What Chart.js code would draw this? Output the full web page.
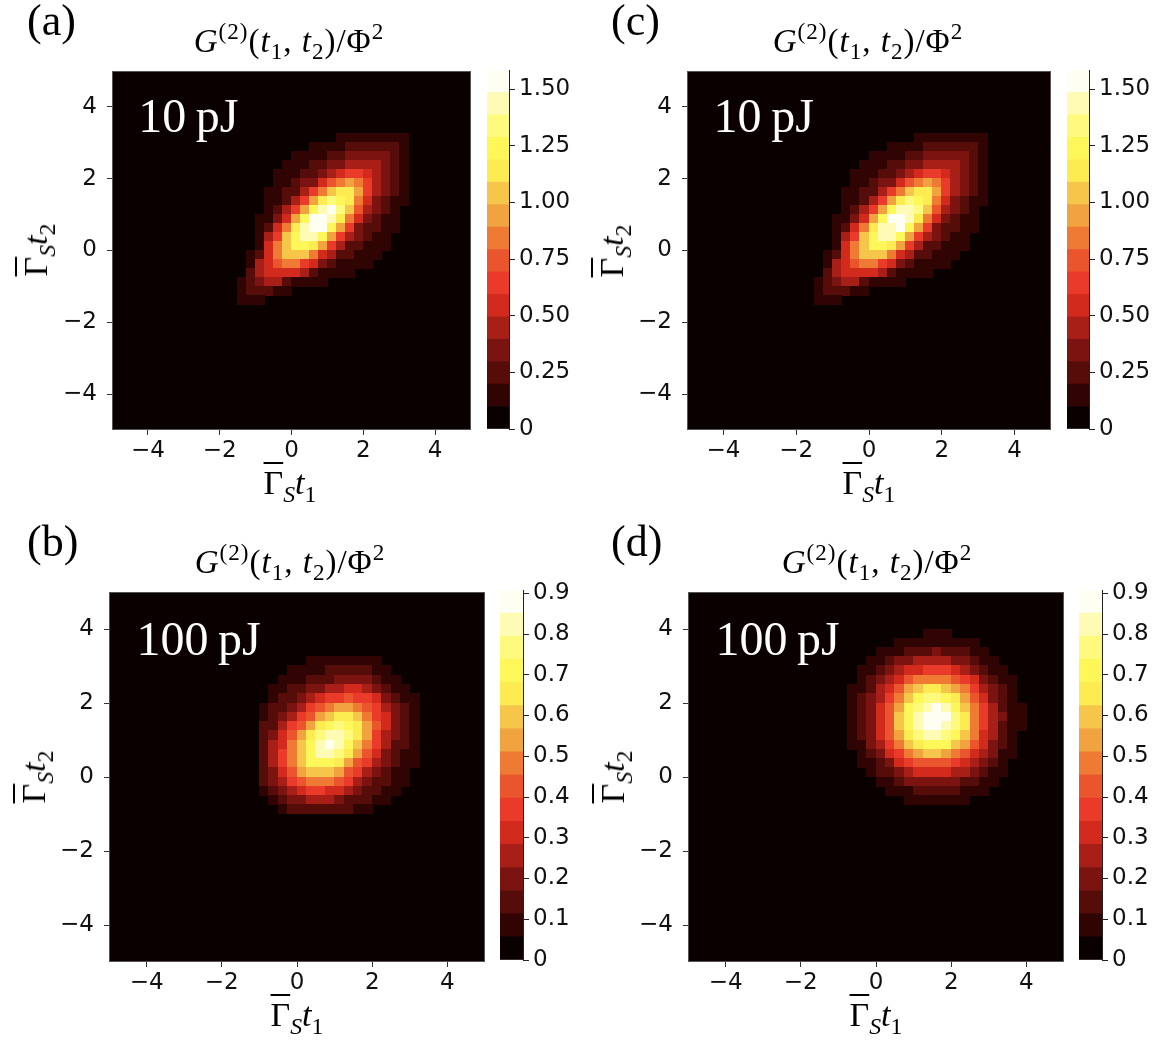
<!DOCTYPE html>
<html lang="en">
<head>
    <meta charset="UTF-8">
    <meta name="viewport" content="width=device-width, initial-scale=1.0">
    <title>G2 correlation maps</title>
    <style>
        html, body { margin: 0; padding: 0; background: #fff; }
        #fig { position: relative; width: 1168px; height: 1044px; overflow: hidden; font-family: "Liberation Serif", "Times New Roman", serif; color: #000; }
        .box { position: absolute; }
        .tag { position: absolute; font-size: 44px; line-height: 1; }
        .ttl { position: absolute; font-size: 33px; line-height: 1; white-space: nowrap; transform: translateX(-50%); letter-spacing: 1px; }
        .xl { position: absolute; font-size: 34px; line-height: 1; white-space: nowrap; transform: translateX(-50%); }
        .yl { position: absolute; font-size: 34px; line-height: 1; white-space: nowrap; transform-origin: 0 0; transform: rotate(-90deg) translateX(-50%); }
        .ov { text-decoration: overline; text-decoration-thickness: 1.5px; }
        .m sub, .m sup { font-size: 70%; vertical-align: baseline; position: relative; }
        .m sub { top: 0.32em; }
        .m sup { top: -0.55em; }
    </style>
</head>
<body>
<div id="fig">
    <div class="box" style="left:42px;top:41px;width:439px;height:434px"><canvas id="pa"></canvas></div>
    <div class="box" style="left:617px;top:41px;width:444px;height:434px"><canvas id="pc"></canvas></div>
    <div class="box" style="left:39px;top:562px;width:456px;height:445px"><canvas id="pb"></canvas></div>
    <div class="box" style="left:618px;top:562px;width:456px;height:445px"><canvas id="pd"></canvas></div>

    <div class="box" style="left:487px;top:40px;width:87px;height:419px"><canvas id="ca"></canvas></div>
    <div class="box" style="left:1067px;top:40px;width:87px;height:419px"><canvas id="cc"></canvas></div>
    <div class="box" style="left:500px;top:560px;width:88px;height:430px"><canvas id="cb"></canvas></div>
    <div class="box" style="left:1079px;top:560px;width:88px;height:430px"><canvas id="cd"></canvas></div>

    <div class="tag" style="left:27px;top:-1px">(a)</div>
    <div class="tag" style="left:611px;top:-1px">(c)</div>
    <div class="tag" style="left:27px;top:520px">(b)</div>
    <div class="tag" style="left:611px;top:520px">(d)</div>

    <div class="ttl m" style="left:289px;top:25px"><i>G</i><sup>(2)</sup>(<i>t</i><sub>1</sub>, <i>t</i><sub>2</sub>)/Φ<sup>2</sup></div>
    <div class="ttl m" style="left:868px;top:25px"><i>G</i><sup>(2)</sup>(<i>t</i><sub>1</sub>, <i>t</i><sub>2</sub>)/Φ<sup>2</sup></div>
    <div class="ttl m" style="left:290px;top:546px"><i>G</i><sup>(2)</sup>(<i>t</i><sub>1</sub>, <i>t</i><sub>2</sub>)/Φ<sup>2</sup></div>
    <div class="ttl m" style="left:877px;top:546px"><i>G</i><sup>(2)</sup>(<i>t</i><sub>1</sub>, <i>t</i><sub>2</sub>)/Φ<sup>2</sup></div>

    <div class="xl m" style="left:290px;top:466px"><span class="ov">Γ</span><sub><i>S</i></sub><i>t</i><sub>1</sub></div>
    <div class="xl m" style="left:869px;top:466px"><span class="ov">Γ</span><sub><i>S</i></sub><i>t</i><sub>1</sub></div>
    <div class="xl m" style="left:297px;top:998px"><span class="ov">Γ</span><sub><i>S</i></sub><i>t</i><sub>1</sub></div>
    <div class="xl m" style="left:876px;top:998px"><span class="ov">Γ</span><sub><i>S</i></sub><i>t</i><sub>1</sub></div>

    <div class="yl m" style="left:19px;top:250px"><span class="ov">Γ</span><sub><i>S</i></sub><i>t</i><sub>2</sub></div>
    <div class="yl m" style="left:595px;top:251px"><span class="ov">Γ</span><sub><i>S</i></sub><i>t</i><sub>2</sub></div>
    <div class="yl m" style="left:17px;top:777px"><span class="ov">Γ</span><sub><i>S</i></sub><i>t</i><sub>2</sub></div>
    <div class="yl m" style="left:596px;top:777px"><span class="ov">Γ</span><sub><i>S</i></sub><i>t</i><sub>2</sub></div>
</div>

<script src="https://cdn.jsdelivr.net/npm/chart.js@4.4.1/dist/chart.umd.min.js"></script>
<script>
    // Rows run from high t2 (top) downwards, columns from low t1 (left) to the right.
    const cellSize = 0.25;

    // (a) 10 pJ, origin = [t1 of left edge, t2 of top edge]
    const originA = [-2.0, 3.5];
    const gridA = [
        "0000000000000000000000",
        "0000000000000111111110",
        "0000000000111122222210",
        "0000000011112233333210",
        "0000000111223344443210",
        "0000001112234566543210",
        "0000001123357898643210",
        "000001122468abb9643210",
        "00000112469bdcb8532110",
        "0000012469cefda7432100",
        "000011359cffeb85321100",
        "00001258beffc963221100",
        "0000146aceec9643211000",
        "0000158accb96422111000",
        "0001258aaa854221110000",
        "0001457886532111100000",
        "0002455554211110000000",
        "0012344211110000000000",
        "0012221100000000000000",
        "0011100000000000000000",
        "0000000000000000000000",
        "0000000000000000000000"
    ];

    // (c) 10 pJ
    const originC = [-2.0, 3.5];
    const gridC = [
        "0000000000000000000000",
        "0000000000000111111110",
        "0000000000111122222210",
        "0000000011112233333210",
        "0000000111223344443210",
        "0000001112234566543210",
        "0000001123357898643210",
        "000001122468abb9643210",
        "00000112469bdcb8532110",
        "0000012469ceeda7432100",
        "000011359cffeb85321100",
        "00001258beefc963221100",
        "0000146aceec9643211000",
        "0000158accb96422111000",
        "0001258aaa854221110000",
        "0001457886532111100000",
        "0002455554211110000000",
        "0012344211110000000000",
        "0012221100000000000000",
        "0011100000000000000000",
        "0000000000000000000000",
        "0000000000000000000000"
    ];

    // (b) 100 pJ
    const originB = [-1.25, 3.5];
    const gridB = [
        "0000000000000000000",
        "0000001111111100000",
        "0000111122222110000",
        "0001112223333211000",
        "0011223344554321100",
        "0012234566766532110",
        "0122346789987643210",
        "01234679abba8653210",
        "0224679bcdcb9753210",
        "023579bdeedb9643210",
        "02458acefeca8642210",
        "02468aceedb97532110",
        "02468acccb976432110",
        "023579aaa9764321100",
        "0234678887643221100",
        "0123456655432211000",
        "0012334443222110000",
        "0001222222211000000",
        "0000000000000000000"
    ];

    // (d) 100 pJ
    const originD = [-1.0, 4.0];
    const gridD = [
        "00000000011100000000",
        "00000011111111100000",
        "00001112223222110000",
        "00011233444433211000",
        "00112345566654321100",
        "00123457888876532110",
        "01124579abba98643210",
        "0123468acddcb9753210",
        "0123579cdefeca864211",
        "012357acefffdb864311",
        "012357aceffedb864211",
        "0123579bdeedca854210",
        "0113468abccca9753210",
        "001235689aa987543110",
        "00112356777765432100",
        "00012234555544321100",
        "00001123333332211000",
        "00000111222221110000",
        "00000001111111000000",
        "00000000000000000000"
    ];

    // contour level edges (16 bands) for each pulse energy
    const levels10pJ = [0, 0.099, 0.198, 0.297, 0.396, 0.495, 0.594, 0.693, 0.792, 0.891, 0.990, 1.089, 1.188, 1.287, 1.386, 1.485, 1.584];
    const levels100pJ = [0, 0.0568, 0.1135, 0.1703, 0.2270, 0.2838, 0.3405, 0.3973, 0.4540, 0.5108, 0.5675, 0.6243, 0.6810, 0.7378, 0.7945, 0.8513, 0.9080];

    const axisTicks = [-4, -2, 0, 2, 4];
    const axisTickLabels = ['\u22124', '\u22122', '0', '2', '4'];
    const cbTicks10pJ = [0, 0.25, 0.5, 0.75, 1.0, 1.25, 1.5];
    const cbLabels10pJ = ['0', '0.25', '0.50', '0.75', '1.00', '1.25', '1.50'];
    const cbTicks100pJ = [0, 0.1, 0.2, 0.3, 0.4, 0.5, 0.6, 0.7, 0.8, 0.9];
    const cbLabels100pJ = ['0', '0.1', '0.2', '0.3', '0.4', '0.5', '0.6', '0.7', '0.8', '0.9'];
    const energyLabels = ['10\u2009pJ', '100\u2009pJ'];

    // "hot" colour map, one colour per band
    const bandColors = ['#0b0000', '#2f0402', '#560c08', '#7b1410', '#a81f17', '#d22b1e', '#ea3a29', '#ea552e',
                        '#ee7a33', '#f0a33f', '#f5c64a', '#fcec52', '#fef75a', '#fefa7e', '#fefcb4', '#fffef2'];

    const tickFont = { family: 'DejaVu Sans', size: 23 };

    // fills every cell of a grid through the chart's own x / y scales
    function cellLayer(grid, origin) {
        return {
            id: 'cells',
            beforeDatasetsDraw(chart) {
                const { ctx, chartArea: a } = chart;
                const x = chart.scales.x, y = chart.scales.y;
                ctx.save();
                ctx.beginPath();
                ctx.rect(a.left, a.top, a.width, a.height);
                ctx.clip();
                ctx.fillStyle = bandColors[0];
                ctx.fillRect(a.left, a.top, a.width, a.height);
                grid.forEach((row, j) => {
                    for (let i = 0; i < row.length; i++) {
                        const lv = parseInt(row[i], 16);
                        if (!lv) continue;
                        const t1 = origin[0] + i * cellSize;
                        const t2 = origin[1] - j * cellSize;
                        const px0 = Math.floor(x.getPixelForValue(t1));
                        const px1 = Math.ceil(x.getPixelForValue(t1 + cellSize));
                        const py0 = Math.floor(y.getPixelForValue(t2));
                        const py1 = Math.ceil(y.getPixelForValue(t2 - cellSize));
                        ctx.fillStyle = bandColors[lv];
                        ctx.fillRect(px0, py0, px1 - px0, py1 - py0);
                    }
                });
                ctx.restore();
            }
        };
    }

    const frameLayer = {
        id: 'frame',
        afterDraw(chart) {
            const { ctx, chartArea: a } = chart;
            ctx.save();
            ctx.strokeStyle = '#555';
            ctx.lineWidth = 1;
            ctx.strokeRect(a.left + 0.5, a.top + 0.5, a.width - 1, a.height - 1);
            ctx.restore();
        }
    };

    function energyLayer(text) {
        return {
            id: 'energy',
            afterDatasetsDraw(chart) {
                const { ctx } = chart;
                ctx.save();
                ctx.fillStyle = '#fff';
                ctx.font = '48px "Liberation Serif"';
                ctx.textBaseline = 'alphabetic';
                ctx.fillText(text, chart.scales.x.getPixelForValue(-4.27), chart.scales.y.getPixelForValue(3.3));
                ctx.restore();
            }
        };
    }

    function axisOptions(isX) {
        return {
            type: 'linear', min: -5, max: 5, bounds: 'data',
            afterBuildTicks: s => { s.ticks = axisTicks.map(v => ({ value: v })); },
            afterFit: s => { if (isX) s.height = 45; else s.width = 70; },
            border: { display: false },
            grid: { drawOnChartArea: false, drawTicks: true, tickLength: 5, color: '#333' },
            ticks: { font: tickFont, color: '#111', padding: isX ? 2 : 10, maxRotation: 0, autoSkip: false,
                     callback: (v, i) => axisTickLabels[i] }
        };
    }

    function makePanel(id, grid, origin, energy) {
        new Chart(document.getElementById(id), {
            type: 'scatter',
            data: { datasets: [] },
            options: {
                responsive: true, maintainAspectRatio: false, animation: false, events: [],
                layout: { padding: { top: 30, right: 10, bottom: 0, left: 0 } },
                plugins: { legend: { display: false }, tooltip: { enabled: false } },
                scales: { x: axisOptions(true), y: axisOptions(false) }
            },
            plugins: [cellLayer(grid, origin), frameLayer, energyLayer(energy)]
        });
    }

    function makeColorbar(id, edges, ticks, labels) {
        new Chart(document.getElementById(id), {
            type: 'bar',
            data: {
                labels: [''],
                datasets: bandColors.map((c, k) => ({
                    data: [[edges[k], edges[k + 1]]],
                    backgroundColor: c, borderWidth: 0, grouped: false,
                    barPercentage: 1, categoryPercentage: 1
                }))
            },
            options: {
                responsive: true, maintainAspectRatio: false, animation: false, events: [],
                layout: { padding: { top: 30, bottom: 30, left: 0, right: 0 } },
                plugins: { legend: { display: false }, tooltip: { enabled: false } },
                scales: {
                    x: { display: false },
                    y: {
                        position: 'right', min: 0, max: edges[edges.length - 1], bounds: 'data',
                        afterBuildTicks: s => { s.ticks = ticks.map(v => ({ value: v })); },
                        afterFit: s => { s.width = 65; },
                        border: { display: true, color: '#222', width: 1 },
                        grid: { drawOnChartArea: false, drawTicks: true, tickLength: 6, color: '#222' },
                        ticks: { font: tickFont, color: '#111', padding: 4, autoSkip: false,
                                 callback: (v, i) => labels[i] }
                    }
                }
            }
        });
    }

    makePanel('pa', gridA, originA, energyLabels[0]);
    makePanel('pc', gridC, originC, energyLabels[0]);
    makePanel('pb', gridB, originB, energyLabels[1]);
    makePanel('pd', gridD, originD, energyLabels[1]);

    makeColorbar('ca', levels10pJ, cbTicks10pJ, cbLabels10pJ);
    makeColorbar('cc', levels10pJ, cbTicks10pJ, cbLabels10pJ);
    makeColorbar('cb', levels100pJ, cbTicks100pJ, cbLabels100pJ);
    makeColorbar('cd', levels100pJ, cbTicks100pJ, cbLabels100pJ);
</script>
</body>
</html>
